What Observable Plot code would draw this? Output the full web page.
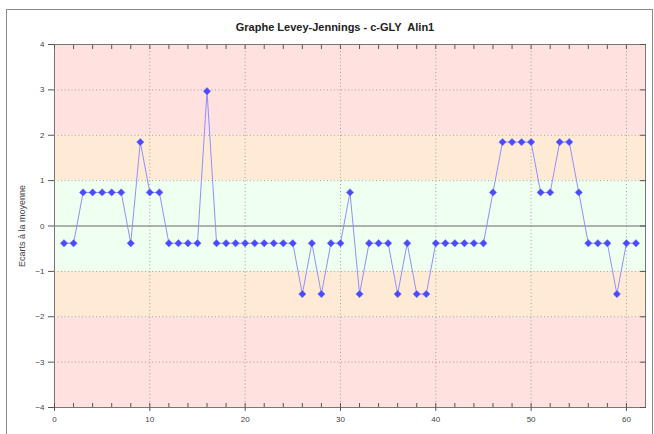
<!DOCTYPE html>
<html><head><meta charset="utf-8">
<script src="https://cdn.jsdelivr.net/npm/d3@7"></script>
<script src="https://cdn.jsdelivr.net/npm/@observablehq/plot@0.6"></script>
<style>
body{margin:0;background:#fff;font-family:"Liberation Sans",Arial,sans-serif}
#wrap{position:relative;width:654px;height:434px;overflow:hidden;background:#fff}
#frame{position:absolute;left:6px;top:9px;width:647px;height:440px;border:1.5px solid #8a8a8a;box-sizing:border-box}
#title{position:absolute;left:0;width:670px;top:21px;text-align:center;font-weight:bold;font-size:11px;color:#222}
#ylab{position:absolute;left:22px;top:226px;transform:translate(-50%,-50%) rotate(-90deg);white-space:nowrap;font-size:9px;color:#444}
#chart{position:absolute;left:0;top:0}
</style></head>
<body>
<div id="wrap"><div id="frame"></div><div id="chart"></div><div id="title"></div><div id="ylab"></div></div>
<script>
const titleText = "Graphe Levey-Jennings - c-GLY\u00a0 Alin1";
const yLabel = "Ecarts à la moyenne";
const values = [
  -0.38, -0.38, 0.74, 0.74, 0.74, 0.74, 0.74, -0.38, 1.85, 0.74,
  0.74, -0.38, -0.38, -0.38, -0.38, 2.97, -0.38, -0.38, -0.38, -0.38,
  -0.38, -0.38, -0.38, -0.38, -0.38, -1.5, -0.38, -1.5, -0.38, -0.38,
  0.74, -1.5, -0.38, -0.38, -0.38, -1.5, -0.38, -1.5, -1.5, -0.38,
  -0.38, -0.38, -0.38, -0.38, -0.38, 0.74, 1.85, 1.85, 1.85, 1.85,
  0.74, 0.74, 1.85, 1.85, 0.74, -0.38, -0.38, -0.38, -1.5, -0.38,
  -0.38
];
const bandFrom = [-4, -2, -1, 1, 2];
const bandTo = [-2, -1, 1, 2, 4];
const bandFill = ["#ffe1e0", "#ffebd5", "#effff0", "#ffebd5", "#ffe1e0"];
const yTicks = [-4, -3, -2, -1, 0, 1, 2, 3, 4];
const yGrid = [-3, -2, -1, 1, 2, 3];
const xMajor = [0, 10, 20, 30, 40, 50, 60];
const xMinor = [0, 2, 4, 6, 8, 10, 12, 14, 16, 18, 20, 22, 24, 26, 28, 30, 32, 34, 36, 38, 40, 42, 44, 46, 48, 50, 52, 54, 56, 58, 60];

document.getElementById("title").textContent = titleText;
document.getElementById("ylab").textContent = yLabel;

const points = values.map((v, i) => ({n: i + 1, v}));
const bands = bandFrom.map((f, i) => ({y1: f, y2: bandTo[i], fill: bandFill[i]}));
const dotted = "1,2.5";

const chart = Plot.plot({
  width: 654, height: 434,
  marginLeft: 54, marginRight: 9, marginTop: 44, marginBottom: 27,
  style: {fontFamily: "Liberation Sans, Arial, sans-serif", fontSize: "8px", color: "#444", background: "transparent"},
  x: {domain: [0, 62]},
  y: {domain: [-4, 4]},
  marks: [
    Plot.rect(bands, {y1: "y1", y2: "y2", fill: "fill"}),
    Plot.gridY({ticks: yGrid, stroke: "#999", strokeOpacity: 0.9, strokeDasharray: dotted}),
    Plot.gridX({ticks: xMajor.slice(1), stroke: "#999", strokeOpacity: 0.9, strokeDasharray: dotted}),
    Plot.ruleY([0], {stroke: "#666", strokeWidth: 1}),
    Plot.frame({stroke: "#777"}),
    Plot.axisY({ticks: yTicks, anchor: "left", tickSize: 6, tickPadding: 4, stroke: "#555", label: null, fontSize: 8}),
    Plot.axisY({ticks: yTicks, anchor: "right", tickSize: -6, text: null, stroke: "#555", label: null}),
    Plot.axisX({ticks: xMinor, anchor: "bottom", tickSize: -4, text: null, stroke: "#555", label: null}),
    Plot.axisX({ticks: xMajor, anchor: "bottom", tickSize: 4, tickPadding: 5, stroke: "#555", label: null}),
    Plot.axisX({ticks: xMinor, anchor: "top", tickSize: -4, text: null, stroke: "#555", label: null}),
    Plot.line(points, {x: "n", y: "v", stroke: "#9090ff", strokeWidth: 1}),
    Plot.dot(points, {x: "n", y: "v", symbol: "diamond2", r: 3.3, fill: "#4a4aff", stroke: "#6a6aff", strokeWidth: 0.5})
  ]
});
document.getElementById("chart").appendChild(chart);
</script>
</body></html>
